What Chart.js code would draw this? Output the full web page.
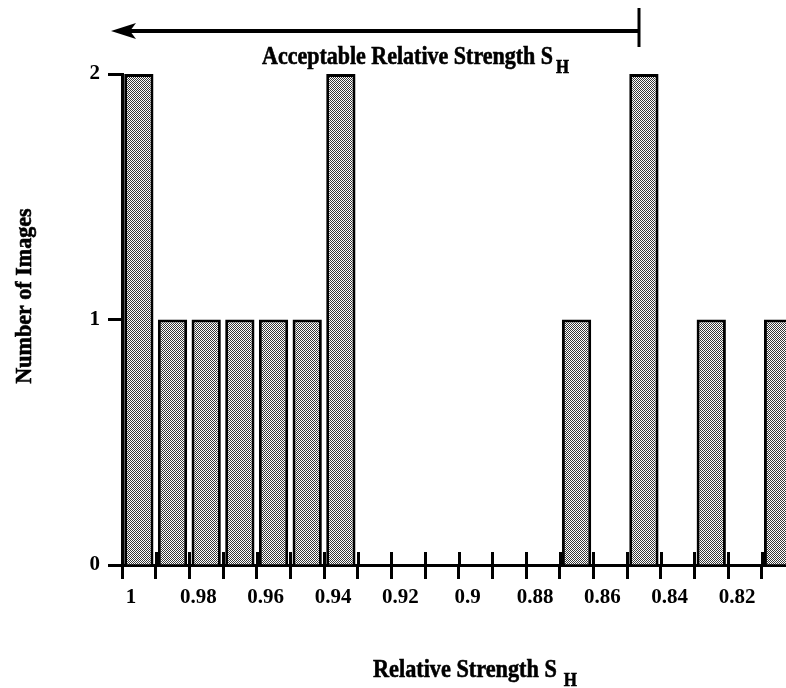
<!DOCTYPE html>
<html>
<head>
<meta charset="utf-8">
<title>Relative Strength S_H</title>
<script src="https://cdn.jsdelivr.net/npm/chart.js"></script>
<style>
    html, body { margin: 0; padding: 0; background: #fff; }
    #wrap { width: 786px; height: 688px; }
</style>
</head>
<body>
<div id="wrap"><canvas id="strength-chart" width="786" height="688"></canvas></div>
<script>
// Histogram bins: upper edge of each 0.01-wide bin, and the number of images in it
const binUpper = [1.00, 0.99, 0.98, 0.97, 0.96, 0.95, 0.94, 0.93, 0.92, 0.91,
                  0.90, 0.89, 0.88, 0.87, 0.86, 0.85, 0.84, 0.83, 0.82, 0.81];
const imageCounts = [2, 1, 1, 1, 1, 1, 2, 0, 0, 0, 0, 0, 0, 1, 0, 2, 0, 1, 0, 1];
const binWidth = 0.01;

// x axis ticks sit on every bin edge, labelled every other one
const tickLabels = ['1', '', '0.98', '', '0.96', '', '0.94', '', '0.92', '',
                    '0.9', '', '0.88', '', '0.86', '', '0.84', '', '0.82', ''];
const countTicks = [0, 1, 2];

// lower end of the "acceptable" range shown by the arrow
const acceptableLimit = 0.8465;
const xRange = [0.8028, 1.0];

const FONT = "'Liberation Serif', 'Times New Roman', serif";

// stippled grey fill used for the bars
function stipplePattern(ctx) {
    const c = document.createElement('canvas');
    c.width = 2;
    c.height = 2;
    const p = c.getContext('2d');
    p.fillStyle = '#fff';
    p.fillRect(0, 0, 2, 2);
    p.fillStyle = '#383838';
    p.fillRect(0, 0, 1, 1);
    p.fillRect(1, 1, 1, 1);
    return ctx.createPattern(c, 'repeat');
}

// heavy, slightly condensed title text with an optional subscript
function drawSubscripted(ctx, text, sub, x, y, size, subSize, drop, gap, squeeze) {
    ctx.save();
    ctx.translate(x, y);
    ctx.scale(squeeze, 1);
    ctx.lineWidth = 0.6;
    ctx.font = `bold ${size}px ${FONT}`;
    ctx.textAlign = 'left';
    ctx.textBaseline = 'alphabetic';
    ctx.fillText(text, 0, 0);
    ctx.strokeText(text, 0, 0);
    const w = ctx.measureText(text).width;
    ctx.font = `bold ${subSize}px ${FONT}`;
    ctx.fillText(sub, w + gap / squeeze, drop);
    ctx.strokeText(sub, w + gap / squeeze, drop);
    ctx.restore();
}

// arrow, cross ticks on the x axis and the axis titles
const annotations = {
    id: 'annotations',
    afterDraw(chart) {
        const { ctx, chartArea, scales } = chart;
        const x = scales.x;
        ctx.save();
        ctx.fillStyle = '#000';
        ctx.strokeStyle = '#000';

        // upper half of each x tick (Chart.js draws the lower half)
        ctx.lineWidth = 3;
        binUpper.forEach(v => {
            const px = Math.round(x.getPixelForValue(v)) + 0.5;
            ctx.beginPath();
            ctx.moveTo(px, chartArea.bottom - 13);
            ctx.lineTo(px, chartArea.bottom);
            ctx.stroke();
        });

        // arrow pointing towards higher strength
        const xEnd = Math.round(x.getPixelForValue(acceptableLimit));
        const arrowY = 31;
        const tipX = chartArea.left - 11;
        ctx.lineWidth = 4;
        ctx.beginPath();
        ctx.moveTo(tipX + 14, arrowY);
        ctx.lineTo(xEnd, arrowY);
        ctx.stroke();
        ctx.beginPath();
        ctx.moveTo(tipX, arrowY);
        ctx.lineTo(tipX + 25, arrowY - 8);
        ctx.lineTo(tipX + 19, arrowY);
        ctx.lineTo(tipX + 25, arrowY + 8);
        ctx.closePath();
        ctx.fill();
        ctx.lineWidth = 3;
        ctx.beginPath();
        ctx.moveTo(xEnd, 8);
        ctx.lineTo(xEnd, 47);
        ctx.stroke();

        drawSubscripted(ctx, 'Acceptable Relative Strength S', 'H', 262, 64, 25, 19, 9, 3, 0.88);
        drawSubscripted(ctx, 'Relative Strength S', 'H', 373, 677, 25, 19, 9, 7, 0.89);

        // y axis title
        ctx.translate(31, 296);
        ctx.rotate(-Math.PI / 2);
        ctx.scale(0.92, 1);
        ctx.font = `bold 24px ${FONT}`;
        ctx.lineWidth = 0.6;
        ctx.textAlign = 'center';
        ctx.textBaseline = 'alphabetic';
        ctx.fillText('Number of Images', 0, 0);
        ctx.strokeText('Number of Images', 0, 0);
        ctx.restore();
    }
};

const canvas = document.getElementById('strength-chart');
const ctx = canvas.getContext('2d');

const chart = new Chart(ctx, {
    type: 'bar',
    data: {
        datasets: [{
            data: binUpper.map((u, i) => ({ x: u - binWidth / 2, y: imageCounts[i] })),
            backgroundColor: stipplePattern(ctx),
            borderColor: '#000',
            borderWidth: 3,
            borderSkipped: 'start',
            categoryPercentage: 1,
            barPercentage: 0.87
        }]
    },
    options: {
        responsive: false,
        animation: false,
        events: [],
        layout: { padding: { top: 74, left: 0, right: 0, bottom: 0 } },
        plugins: {
            legend: { display: false },
            tooltip: { enabled: false }
        },
        scales: {
            x: {
                type: 'linear',
                reverse: true,
                offset: false,
                min: xRange[0],
                max: xRange[1],
                afterBuildTicks: axis => {
                    axis.ticks = binUpper.map(value => ({ value }));
                },
                afterFit: axis => { axis.height = 123; },
                grid: {
                    display: true,
                    offset: false,
                    drawOnChartArea: false,
                    drawTicks: true,
                    tickLength: 14,
                    tickWidth: 3,
                    tickColor: '#000'
                },
                border: { display: true, color: '#000', width: 3 },
                ticks: {
                    autoSkip: false,
                    maxRotation: 0,
                    padding: 6,
                    labelOffset: 9,
                    color: '#000',
                    font: { family: FONT, size: 21, weight: 'bold' },
                    callback: value => tickLabels[binUpper.indexOf(value)] ?? ''
                }
            },
            y: {
                min: 0,
                max: 2,
                afterBuildTicks: axis => {
                    axis.ticks = countTicks.map(value => ({ value }));
                },
                afterFit: axis => { axis.width = 122; },
                grid: {
                    display: true,
                    drawOnChartArea: false,
                    drawTicks: true,
                    tickLength: 14,
                    tickWidth: 3,
                    tickColor: '#000'
                },
                border: { display: true, color: '#000', width: 3 },
                ticks: {
                    padding: 8,
                    color: '#000',
                    font: { family: FONT, size: 21, weight: 'bold' },
                    callback: value => String(value)
                }
            }
        }
    },
    plugins: [annotations]
});
</script>
</body>
</html>
